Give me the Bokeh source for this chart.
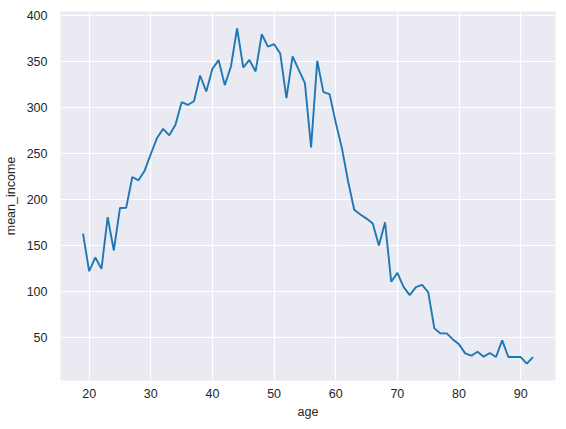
from bokeh.plotting import figure
from bokeh.models import Range1d, FixedTicker, ColumnDataSource
from bokeh.embed import file_html
from bokeh.resources import INLINE

ages = list(range(19, 93))
mean_income = [
    163, 122, 137, 124.6, 180.8, 144.6, 190.9, 191, 224.6, 221,      # 19-28
    231.5, 249.6, 267, 277, 270, 281.5, 306, 303, 307, 335,          # 29-38
    317.7, 342.4, 351.8, 324.6, 344.9, 386.5, 343.8, 352, 339.5, 380, # 39-48
    366.6, 369.2, 359, 310.5, 355.8, 341.3, 326.8, 256.8, 351, 317,  # 49-58
    314.8, 284, 256, 220, 189, 183.7, 179.3, 174, 150, 175.3,        # 59-68
    110.5, 120.2, 105, 96, 104.7, 107.2, 99.2, 59.8, 54.3, 54.3,     # 69-78
    47.8, 42.4, 32.6, 30, 34.3, 29, 33, 28.6, 46.7, 28.6,            # 79-88
    28.6, 28.6, 21.3, 28.6,                                           # 89-92
]
x_ticks = [20, 30, 40, 50, 60, 70, 80, 90]
y_ticks = [50, 100, 150, 200, 250, 300, 350, 400]

xmin, xmax = min(ages), max(ages)
ymin, ymax = min(mean_income), max(mean_income)
xpad = (xmax - xmin) * 0.05
ypad = (ymax - ymin) * 0.05

source = ColumnDataSource(data=dict(age=ages, mean_income=mean_income))

p = figure(
    frame_width=495, frame_height=369,
    min_border_left=54, min_border_top=11, min_border_right=1, min_border_bottom=44,
    output_backend="svg", toolbar_location=None,
    x_range=Range1d(xmin - xpad, xmax + xpad),
    y_range=Range1d(ymin - ypad, ymax + ypad),
)
p.background_fill_color = "#EAEAF2"
p.border_fill_color = "white"
p.outline_line_color = None

p.line("age", "mean_income", source=source, line_color="#1f77b4", line_width=1.9)

p.xaxis.ticker = FixedTicker(ticks=x_ticks)
p.yaxis.ticker = FixedTicker(ticks=y_ticks)
p.xgrid.ticker = FixedTicker(ticks=x_ticks)
p.ygrid.ticker = FixedTicker(ticks=y_ticks)
p.grid.grid_line_color = "white"
p.grid.grid_line_width = 1.2

p.xaxis.axis_label = "age"
p.yaxis.axis_label = "mean_income"

for ax in (p.xaxis[0], p.yaxis[0]):
    ax.axis_line_color = None
    ax.major_tick_line_color = None
    ax.minor_tick_line_color = None
    ax.major_tick_out = 0
    ax.major_tick_in = 0
    ax.minor_tick_out = 0
    ax.minor_tick_in = 0
    ax.major_label_text_font = "Liberation Sans"
    ax.major_label_text_font_size = "12.5px"
    ax.major_label_text_color = "#262626"
    ax.axis_label_text_font = "Liberation Sans"
    ax.axis_label_text_font_size = "12.5px"
    ax.axis_label_text_color = "#262626"
    ax.axis_label_text_font_style = "normal"

p.xaxis.major_label_standoff = 8
p.xaxis.axis_label_standoff = 4
p.yaxis.major_label_standoff = 13
p.yaxis.axis_label_standoff = 6

open("out.html", "w").write(file_html(p, INLINE))
